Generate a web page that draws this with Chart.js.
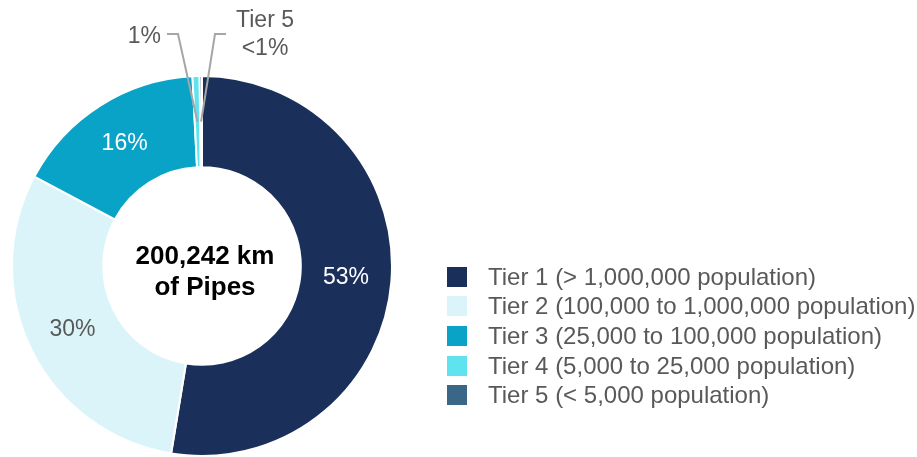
<!DOCTYPE html>
<html>
<head>
<meta charset="utf-8">
<script src="https://cdn.jsdelivr.net/npm/chart.js@4"></script>
<style>
  html, body { margin: 0; padding: 0; background: #fff; }
  #wrap { position: relative; width: 917px; height: 457px; }
  #legend { position: absolute; left: 447px; top: 262px; font-family: "Liberation Sans", Arial, sans-serif; font-size: 24px; color: #595959; }
  .row { height: 29.6px; display: flex; align-items: center; white-space: nowrap; }
  .box { width: 20px; height: 20px; margin-right: 21px; }
</style>
</head>
<body>
<div id="wrap">
  <canvas id="pipeChart" width="917" height="457"></canvas>
  <div id="legend"></div>
</div>
<script>
// ================== DATA ==================
const tiers = [
  "Tier 1 (> 1,000,000 population)",
  "Tier 2 (100,000 to 1,000,000 population)",
  "Tier 3 (25,000 to 100,000 population)",
  "Tier 4 (5,000 to 25,000 population)",
  "Tier 5 (< 5,000 population)",
];
const shares = [52.6, 30.2, 16.4, 0.6, 0.2];
const shareLabels = ["53%", "30%", "16%", "1%", "<1%"];
const colors = ["#1b2f5b", "#daf4f9", "#09a3c7", "#5fe3ef", "#3a6688"];
const labelColors = ["#ffffff", "#595959", "#ffffff", "#595959", "#595959"];
const centerText = ["200,242 km", "of Pipes"];

const FONT = '"Liberation Sans", Arial, sans-serif';

// ================== LEGEND ==================
const legend = document.getElementById("legend");
tiers.forEach((t, i) => {
  const row = document.createElement("div");
  row.className = "row";
  row.innerHTML = `<span class="box" style="background:${colors[i]}"></span><span>${t}</span>`;
  legend.appendChild(row);
});

// ================== LABELS PLUGIN ==================
const sliceLabels = {
  id: "sliceLabels",
  afterDatasetsDraw(chart) {
    const c = chart.ctx;
    const arcs = chart.getDatasetMeta(0).data;
    c.save();
    c.font = `23px ${FONT}`;
    c.textBaseline = "middle";

    arcs.forEach((arc, i) => {
      const p = arc.getProps(["x", "y", "startAngle", "endAngle", "innerRadius", "outerRadius"], true);
      const mid = (p.startAngle + p.endAngle) / 2;
      const r = (p.innerRadius + p.outerRadius) / 2;
      const mx = p.x + Math.cos(mid) * r;
      const my = p.y + Math.sin(mid) * r;

      if (i < 3) {
        c.fillStyle = labelColors[i];
        c.textAlign = "center";
        c.fillText(shareLabels[i], mx, my);
        return;
      }

      // small slices: leader line up above the ring
      const elbowY = p.y - p.outerRadius - 42;
      const side = i === 3 ? -1 : 1;
      const elbowX = p.x + (side < 0 ? -24 : 13);
      const endX = elbowX + side * 11;
      c.strokeStyle = "#a6a6a6";
      c.lineWidth = 2;
      c.beginPath();
      c.moveTo(mx, my);
      c.lineTo(elbowX, elbowY);
      c.lineTo(endX, elbowY);
      c.stroke();

      c.fillStyle = labelColors[i];
      if (side < 0) {
        c.textAlign = "right";
        c.fillText(shareLabels[i], endX - 6, elbowY + 3);
      } else {
        c.textAlign = "center";
        c.fillText("Tier 5", endX + 39, elbowY - 13);
        c.fillText(shareLabels[i], endX + 39, elbowY + 15);
      }
    });

    // center text
    const a0 = arcs[0];
    c.fillStyle = "#000000";
    c.font = `bold 26px ${FONT}`;
    c.textAlign = "center";
    c.fillText(centerText[0], a0.x + 3, a0.y - 9);
    c.fillText(centerText[1], a0.x + 3, a0.y + 22);
    c.restore();
  },
};

// ================== CHART ==================
new Chart(document.getElementById("pipeChart"), {
  type: "doughnut",
  data: {
    labels: tiers,
    datasets: [
      {
        data: shares,
        backgroundColor: colors,
        borderColor: "#ffffff",
        borderWidth: 2,
      },
    ],
  },
  options: {
    responsive: false,
    animation: false,
    cutout: "52%",
    layout: { padding: { left: 11, right: 524, top: 75, bottom: 0 } },
    plugins: {
      legend: { display: false },
      tooltip: { enabled: false },
    },
  },
  plugins: [sliceLabels],
});
</script>
</body>
</html>
